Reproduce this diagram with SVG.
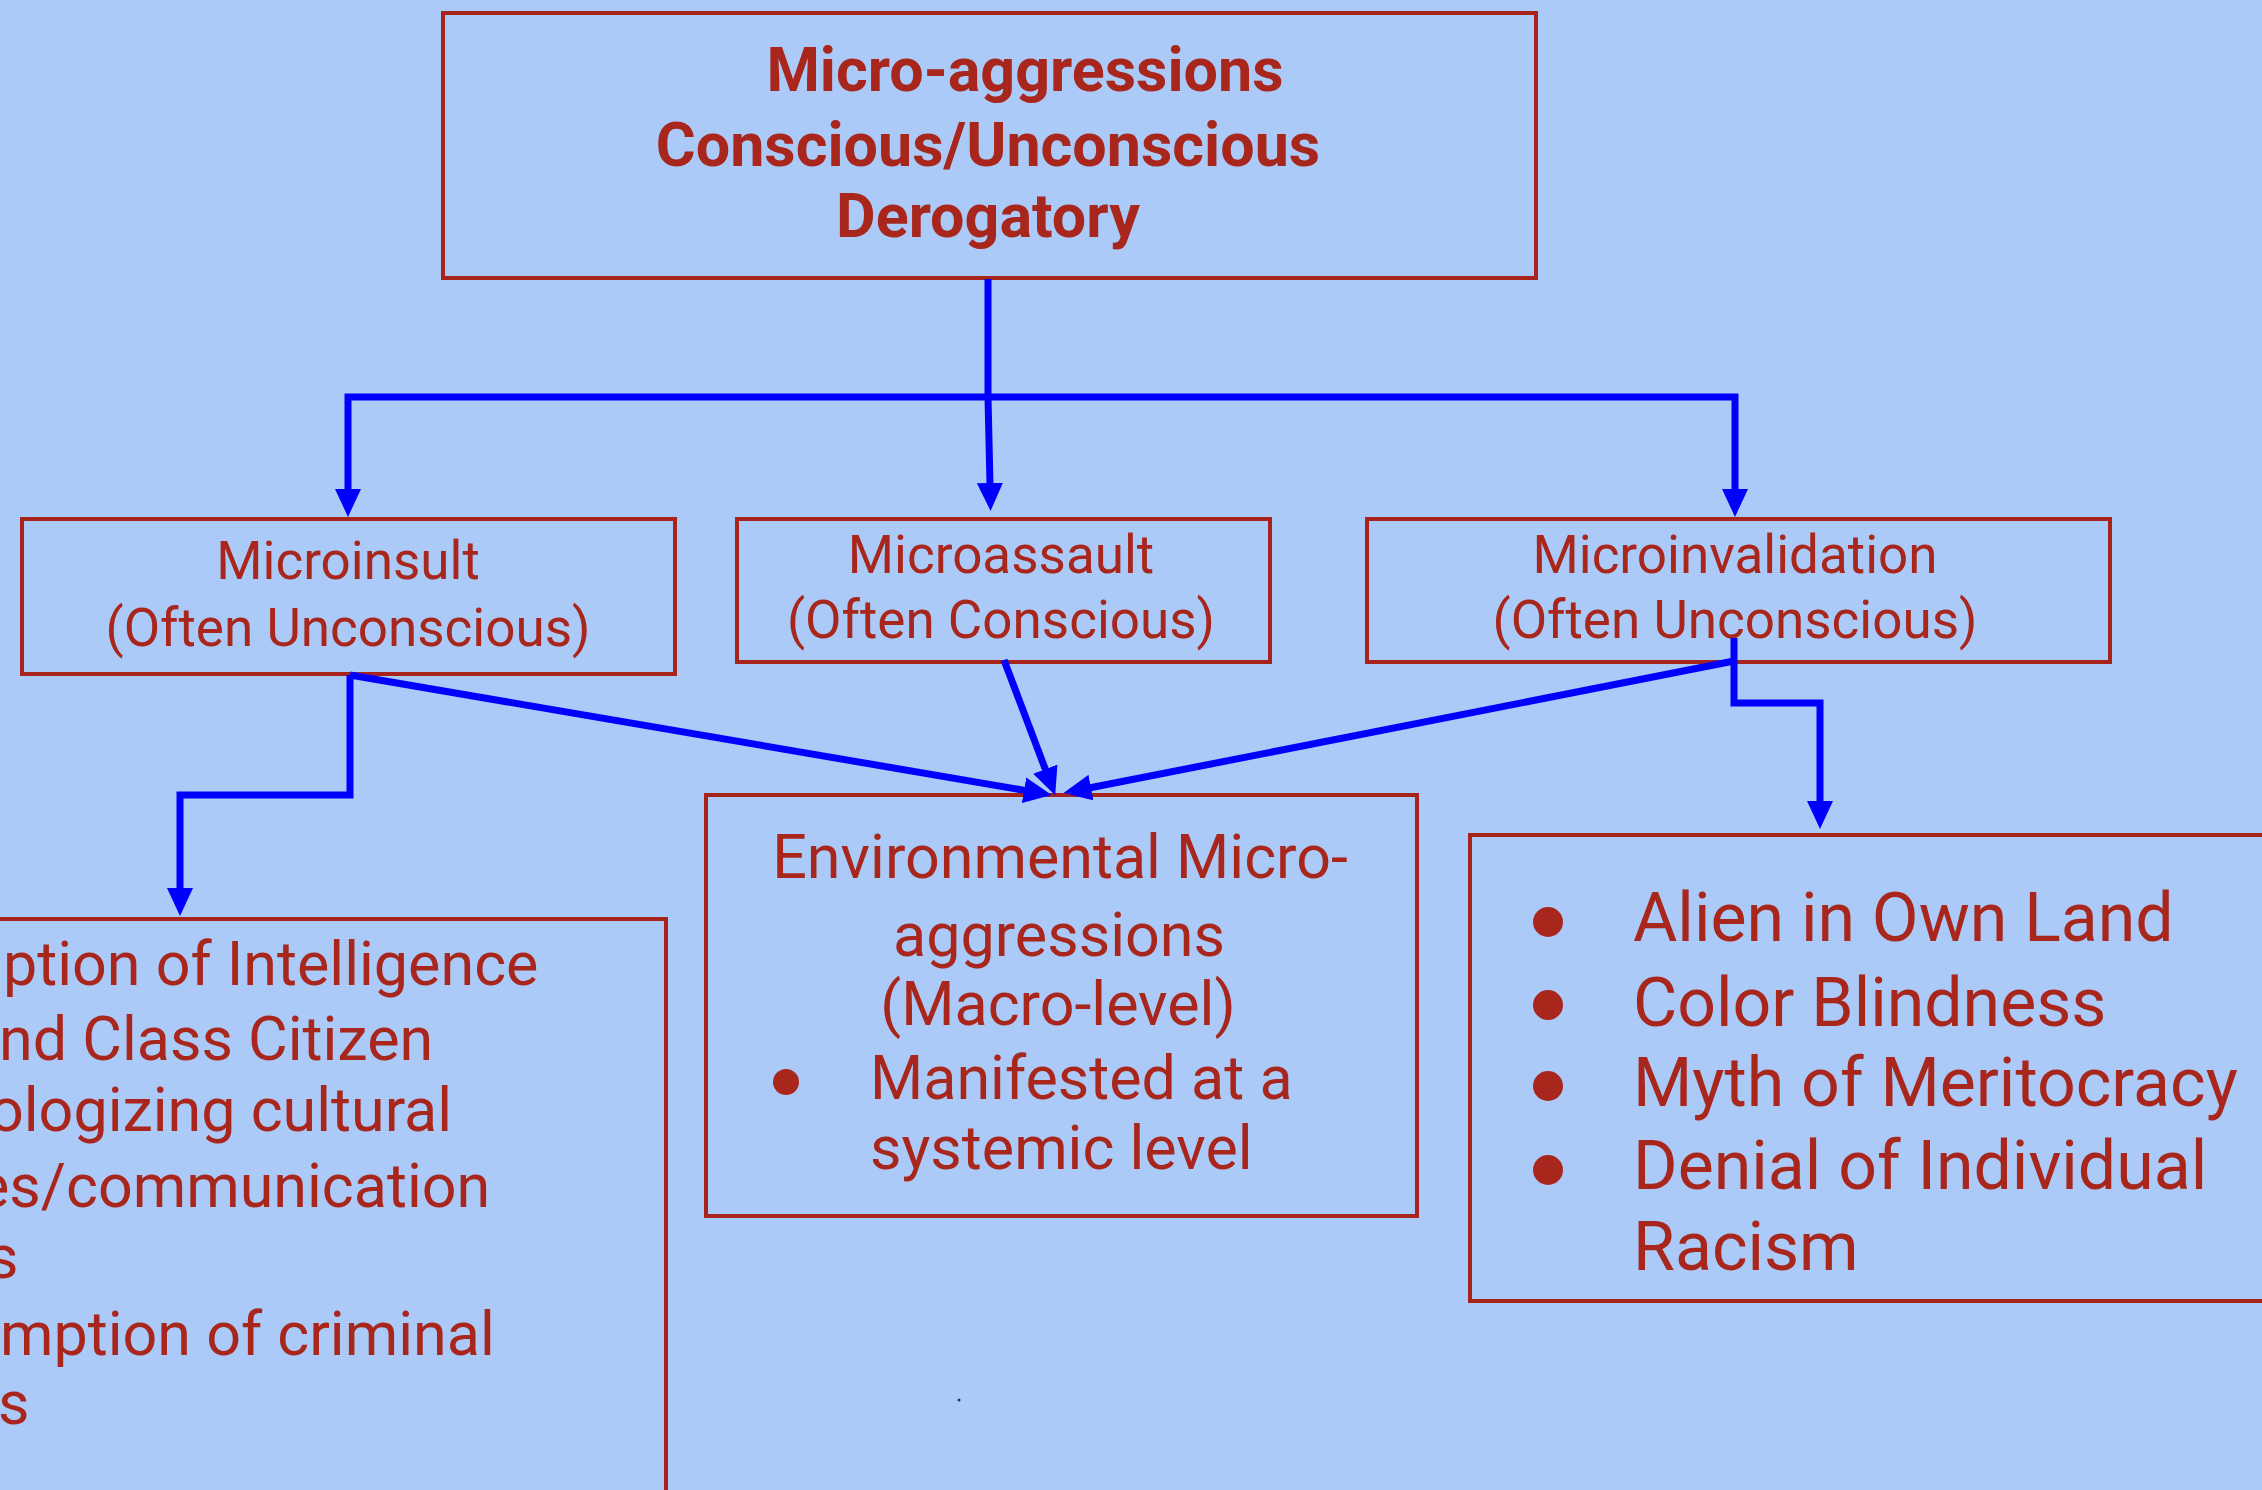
<svg xmlns="http://www.w3.org/2000/svg" width="2262" height="1490" viewBox="0 0 2262 1490">
<defs>
<style>
.box{fill:none;stroke:#a8231b;stroke-width:4}
.t{font-family:Roboto,"Liberation Sans",sans-serif;fill:#a8261c}
.c{text-anchor:middle}
.b{font-weight:bold;font-size:61px}
.m{font-size:53px}
.e{font-size:61px}
.a{font-size:68px}
.dot{fill:#a8261c}
.con{fill:none;stroke:#0000ff;stroke-width:7;stroke-linejoin:miter;marker-end:url(#ah)}
</style>
<marker id="ah" markerUnits="userSpaceOnUse" markerWidth="28" markerHeight="26" refX="2" refY="13" orient="auto" viewBox="0 0 28 26">
<path d="M0,0 L28,13 L0,26 z" fill="#0000ff"/>
</marker>
</defs>
<rect x="0" y="0" width="2262" height="1490" fill="#abcaf7"/>

<g id="node-top">
<rect class="box" x="443" y="13" width="1093" height="265"/>
<text class="t b c" x="1025" y="91">Micro-aggressions</text>
<text class="t b c" x="988" y="166">Conscious/Unconscious</text>
<text class="t b c" x="988" y="237">Derogatory</text>
</g>

<g id="node-microinsult">
<rect class="box" x="22" y="519" width="653" height="155"/>
<text class="t m c" x="348" y="579">Microinsult</text>
<text class="t m c" x="348" y="646">(Often Unconscious)</text>
</g>

<g id="node-microassault">
<rect class="box" x="737" y="519" width="533" height="143"/>
<text class="t m c" x="1001" y="573">Microassault</text>
<text class="t m c" x="1001" y="638">(Often Conscious)</text>
</g>

<g id="node-microinvalidation">
<rect class="box" x="1367" y="519" width="743" height="143"/>
<text class="t m c" x="1735" y="573">Microinvalidation</text>
<text class="t m c" x="1735" y="638">(Often Unconscious)</text>
</g>

<g id="node-microinsult-list">
<rect class="box" x="-10" y="919" width="676" height="620"/>
<text class="t e" x="3" y="985">ption of Intelligence</text>
<text class="t e" x="-1" y="1060">nd Class Citizen</text>
<text class="t e" x="-11" y="1131">ologizing cultural</text>
<text class="t e" x="-23" y="1207">es/communication</text>
<text class="t e" x="-13" y="1278">s</text>
<text class="t e" x="0" y="1355">mption of criminal</text>
<text class="t e" x="-2" y="1424">s</text>
</g>

<g id="node-environmental">
<rect class="box" x="706" y="795" width="711" height="421"/>
<text class="t e c" x="1060" y="878">Environmental Micro-</text>
<text class="t e c" x="1059" y="956">aggressions</text>
<text class="t e c" x="1058" y="1025">(Macro-level)</text>
<circle class="dot" cx="786" cy="1082" r="13"/>
<text class="t e" x="870" y="1099">Manifested at a</text>
<text class="t e" x="870" y="1169">systemic level</text>
</g>

<g id="node-microinvalidation-list">
<rect class="box" x="1470" y="835" width="900" height="466"/>
<circle class="dot" cx="1548" cy="922" r="15"/>
<circle class="dot" cx="1548" cy="1005" r="15"/>
<circle class="dot" cx="1548" cy="1086" r="15"/>
<circle class="dot" cx="1548" cy="1170" r="15"/>
<text class="t a" x="1633" y="941">Alien in Own Land</text>
<text class="t a" x="1633" y="1026">Color Blindness</text>
<text class="t a" x="1633" y="1106">Myth of Meritocracy</text>
<text class="t a" x="1633" y="1189">Denial of Individual</text>
<text class="t a" x="1633" y="1270">Racism</text>
</g>

<circle cx="959" cy="1400" r="1.5" fill="#333"/>

<g id="connectors">
<path class="con" d="M988,279 L988,397 L990,485"/>
<path class="con" d="M988,397 L348,397 L348,491"/>
<path class="con" d="M988,397 L1735,397 L1735,491"/>
<path class="con" d="M350,675 L350,795 L180,795 L180,890"/>
<path class="con" d="M350,675 L1026,790.6"/>
<path class="con" d="M1004,660 L1046,771"/>
<path class="con" d="M1734,661 L1089,788"/>
<path class="con" d="M1734,638 L1734,703 L1820,703 L1820,803"/>
</g>
</svg>
